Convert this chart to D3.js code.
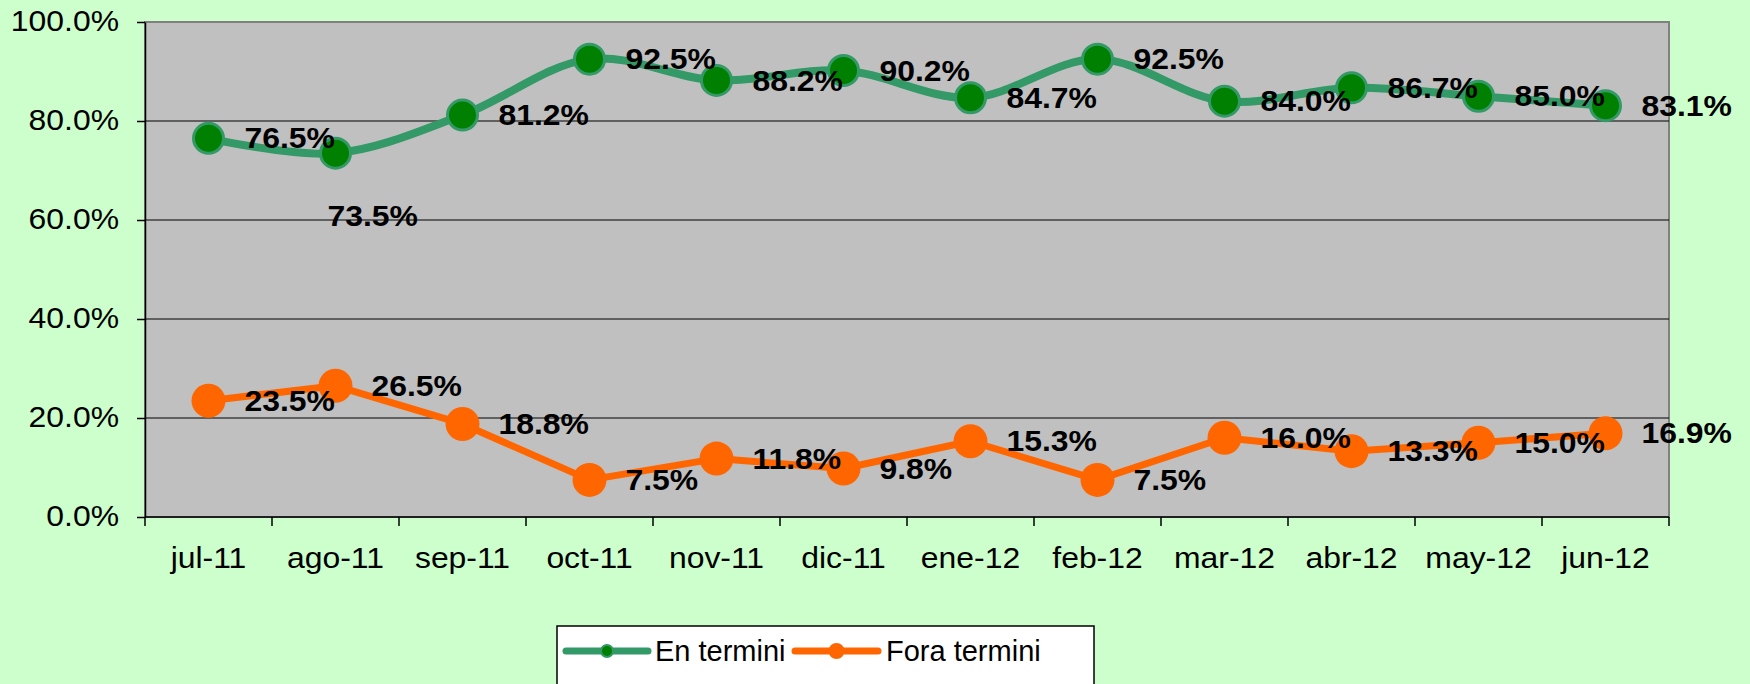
<!DOCTYPE html>
<html><head><meta charset="utf-8">
<script src="https://cdn.jsdelivr.net/npm/d3@7"></script>
<style>body{margin:0;background:#CCFFCC;} svg{display:block;}</style>
</head><body>
<svg id="c" width="1750" height="684"></svg>
<script>
const categories = ["jul-11","ago-11","sep-11","oct-11","nov-11","dic-11","ene-12","feb-12","mar-12","abr-12","may-12","jun-12"];
const enTermini = [76.5,73.5,81.2,92.5,88.2,90.2,84.7,92.5,84.0,86.7,85.0,83.1];
const foraTermini = [23.5,26.5,18.8,7.5,11.8,9.8,15.3,7.5,16.0,13.3,15.0,16.9];
const yTicks = [0,20,40,60,80,100];
const seriesNames = ["En termini","Fora termini"];

const svg = d3.select("#c");
const W = 1750, H = 684;
const L = 145, R = 1669, T = 22, B = 517;
const SX = 1.1;
svg.append("rect").attr("width",W).attr("height",H).attr("fill","#CCFFCC");

const x = d3.scaleBand().domain(categories).range([L,R]);
const y = d3.scaleLinear().domain([0,100]).range([B,T]);
const cx = c => x(c) + x.bandwidth()/2;

// plot area
svg.append("rect").attr("x",L).attr("y",T).attr("width",R-L).attr("height",B-T)
  .attr("fill","#C0C0C0").attr("stroke","#808080").attr("stroke-width",2);
// gridlines
svg.append("g").selectAll("line").data(yTicks.filter(d=>d>0 && d<100)).join("line")
  .attr("x1",L).attr("x2",R).attr("y1",d=>y(d)).attr("y2",d=>y(d))
  .attr("stroke","#000").attr("stroke-width",1);

// y axis
const ya = svg.append("g").attr("transform",`translate(${L},0)`)
  .call(d3.axisLeft(y).tickValues(yTicks).tickSize(8).tickSizeOuter(0).tickFormat(""));
ya.select(".domain").attr("stroke","#000").attr("stroke-width",1.5);
ya.selectAll(".tick line").attr("stroke","#000").attr("stroke-width",1.5);
svg.append("g").selectAll("text").data(yTicks).join("text")
  .attr("transform",d=>`translate(119,${y(d)-1}) scale(${SX},1)`)
  .attr("text-anchor","end").attr("dy","0.35em")
  .attr("font-family","Liberation Sans, Arial, sans-serif").attr("font-size",29)
  .attr("fill","#000").text(d=>d.toFixed(1)+"%");

// x axis
svg.append("line").attr("x1",L).attr("x2",R).attr("y1",B).attr("y2",B).attr("stroke","#000").attr("stroke-width",1.5);
svg.append("g").selectAll("line").data(categories.map(c=>x(c)).concat([R])).join("line")
  .attr("x1",d=>d).attr("x2",d=>d).attr("y1",B).attr("y2",B+9)
  .attr("stroke","#000").attr("stroke-width",1.5);
svg.append("g").selectAll("text").data(categories).join("text")
  .attr("transform",d=>`translate(${cx(d)},568) scale(${SX},1)`)
  .attr("text-anchor","middle")
  .attr("font-family","Liberation Sans, Arial, sans-serif").attr("font-size",29)
  .attr("fill","#000").text(d=>d);

// series
const greenData = categories.map((c,i)=>({c,v:enTermini[i],i}));
const orangeData = categories.map((c,i)=>({c,v:foraTermini[i],i}));

svg.append("path").datum(greenData)
  .attr("d",d3.line().x(d=>cx(d.c)).y(d=>y(d.v)).curve(d3.curveCatmullRom.alpha(0.5)))
  .attr("fill","none").attr("stroke","#339966").attr("stroke-width",8).attr("stroke-linejoin","round");
svg.append("path").datum(orangeData)
  .attr("d",d3.line().x(d=>cx(d.c)).y(d=>y(d.v)))
  .attr("fill","none").attr("stroke","#FF6600").attr("stroke-width",7).attr("stroke-linejoin","round");

svg.append("g").selectAll("circle").data(greenData).join("circle")
  .attr("cx",d=>cx(d.c)).attr("cy",d=>y(d.v)).attr("r",15)
  .attr("fill","#008000").attr("stroke","#339966").attr("stroke-width",3);
svg.append("g").selectAll("circle").data(orangeData).join("circle")
  .attr("cx",d=>cx(d.c)).attr("cy",d=>y(d.v)).attr("r",17)
  .attr("fill","#FF6600");

function labels(data){
  svg.append("g").selectAll("text").data(data).join("text")
    .attr("transform",d=>{
      let lx = cx(d.c)+36, ly = y(d.v);
      if (data===greenData && d.i===1){ lx = cx(d.c)-8; ly = y(d.v)+63; }
      return `translate(${lx},${ly}) scale(${SX},1)`;
    })
    .attr("dy","0.35em").attr("text-anchor","start")
    .attr("font-family","Liberation Sans, Arial, sans-serif").attr("font-size",29).attr("font-weight","bold")
    .attr("fill","#000").text(d=>d.v.toFixed(1)+"%");
}
labels(greenData);
labels(orangeData);

// legend
const lg = svg.append("g");
lg.append("rect").attr("x",557).attr("y",626).attr("width",537).attr("height",70)
  .attr("fill","#FFFFFF").attr("stroke","#000").attr("stroke-width",1.5);
const legendItems = [
  {name:seriesNames[0], x0:566, x1:648, tx:655, stroke:"#339966", fill:"#008000", r:6},
  {name:seriesNames[1], x0:795, x1:878, tx:886, stroke:"#FF6600", fill:"#FF6600", r:7}
];
legendItems.forEach(it=>{
  lg.append("line").attr("x1",it.x0).attr("x2",it.x1).attr("y1",651).attr("y2",651)
    .attr("stroke",it.stroke).attr("stroke-width",7).attr("stroke-linecap","round");
  lg.append("circle").attr("cx",(it.x0+it.x1)/2).attr("cy",651).attr("r",it.r)
    .attr("fill",it.fill).attr("stroke",it.stroke).attr("stroke-width",2);
  lg.append("text").attr("x",it.tx).attr("y",651).attr("dy","0.35em")
    .attr("font-family","Liberation Sans, Arial, sans-serif").attr("font-size",29)
    .attr("fill","#000").text(it.name);
});
</script>
</body></html>
